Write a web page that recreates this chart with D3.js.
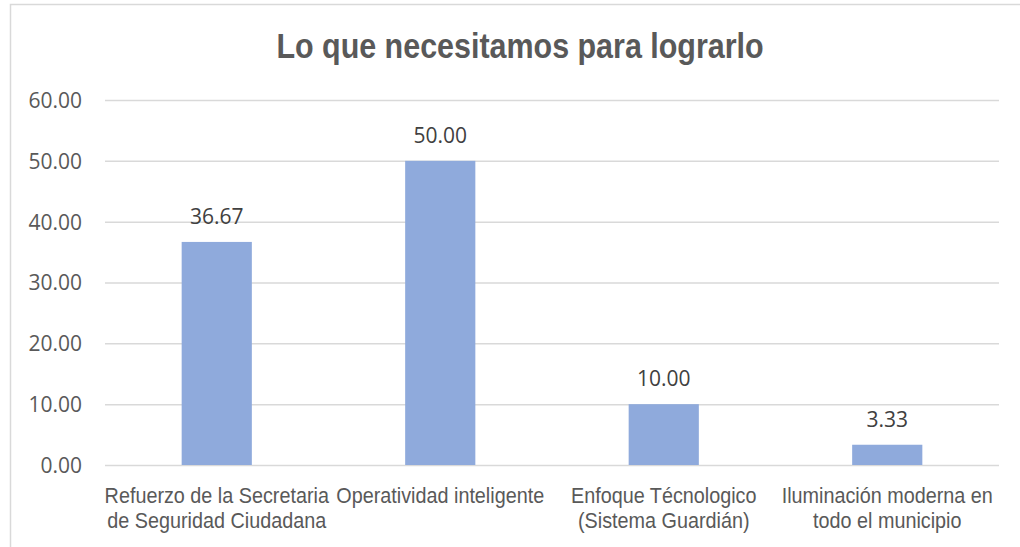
<!DOCTYPE html>
<html>
<head>
<meta charset="utf-8">
<script src="https://cdn.jsdelivr.net/npm/d3@7"></script>
<style>
  body { margin: 0; background: #fff; }
  svg { display: block; }
  .cat { font-family: 'Liberation Sans', Arial, sans-serif; font-size: 22px; fill: #595959; }
  .tick text { font-family: 'Open Sans', sans-serif; font-size: 21px; fill: #595959; }
  .val { font-family: 'Open Sans', sans-serif; font-size: 21px; fill: #404040; }
  .title { font-family: 'Liberation Sans', Arial, sans-serif; font-weight: bold; font-size: 35px; fill: #595959; }
</style>
</head>
<body>
<div id="chart"></div>
<script>
// Data
const categories = [
    ['Refuerzo de la Secretaria', 'de Seguridad Ciudadana'],
    ['Operatividad inteligente'],
    ['Enfoque Técnologico', '(Sistema Guardián)'],
    ['Iluminación moderna en', 'todo el municipio']
];
const values = [36.67, 50.00, 10.00, 3.33];
const yTicks = [0, 10, 20, 30, 40, 50, 60];

const chart = {
    totalWidth: 1020,
    totalHeight: 547,
    margin: { top: 100, bottom: 82, left: 105, right: 21 }
};
chart.width = chart.totalWidth - (chart.margin.left + chart.margin.right);
chart.height = chart.totalHeight - (chart.margin.top + chart.margin.bottom);

// narrow font is not installed, so squeeze the regular one
const narrow = 0.9;

const svg = d3.select('#chart')
    .append('svg')
    .attr('width', chart.totalWidth)
    .attr('height', chart.totalHeight);

// Outer border of the chart area
svg.append('rect')
    .attr('x', 10.5)
    .attr('y', 4.5)
    .attr('width', 1100)
    .attr('height', 600)
    .attr('fill', 'none')
    .attr('stroke', '#d9d9d9')
    .attr('stroke-width', 1.5);

// Title
svg.append('text')
    .classed('title', true)
    .attr('transform', 'translate(520, 58) scale(0.87, 1)')
    .attr('text-anchor', 'middle')
    .text('Lo que necesitamos para lograrlo');

const g = svg.append('g')
    .attr('transform', `translate(${chart.margin.left}, ${chart.margin.top})`);

// Scales
const xScale = d3.scaleBand()
    .domain(d3.range(categories.length))
    .range([0, chart.width])
    .paddingInner(0.686)
    .paddingOuter(0.343);

const yScale = d3.scaleLinear()
    .domain([0, 60])
    .range([chart.height, 0]);

// Y-axis with gridlines
const yAxis = d3.axisLeft(yScale)
    .tickValues(yTicks)
    .tickFormat(d3.format('.2f'))
    .tickSize(-chart.width)
    .tickPadding(23);

g.append('g')
    .classed('y-axis', true)
    .call(yAxis)
    .call(a => a.select('.domain').remove())
    .call(a => a.selectAll('.tick line').attr('stroke', '#d9d9d9').attr('stroke-width', 1.5))
    .call(a => a.selectAll('.tick text').attr('dy', '0.35em'));

// Bars
g.append('g')
    .selectAll('rect')
    .data(values)
    .enter()
    .append('rect')
    .attr('x', (d, i) => xScale(i))
    .attr('y', d => yScale(d))
    .attr('width', xScale.bandwidth())
    .attr('height', d => chart.height - yScale(d))
    .attr('fill', '#8faadc');

// Data labels
g.append('g')
    .selectAll('text')
    .data(values)
    .enter()
    .append('text')
    .classed('val', true)
    .attr('x', (d, i) => xScale(i) + xScale.bandwidth() / 2)
    .attr('y', d => yScale(d) - 18)
    .attr('text-anchor', 'middle')
    .text(d => d3.format('.2f')(d));

// Category labels
const cats = g.append('g')
    .selectAll('text')
    .data(categories)
    .enter()
    .append('text')
    .classed('cat', true)
    .attr('text-anchor', 'middle')
    .attr('transform', (d, i) => `translate(${xScale(i) + xScale.bandwidth() / 2}, ${chart.height + 38}) scale(${narrow}, 1)`);

cats.selectAll('tspan')
    .data(d => d)
    .enter()
    .append('tspan')
    .attr('x', 0)
    .attr('dy', (d, i) => i === 0 ? 0 : 25)
    .text(d => d);
</script>
</body>
</html>
